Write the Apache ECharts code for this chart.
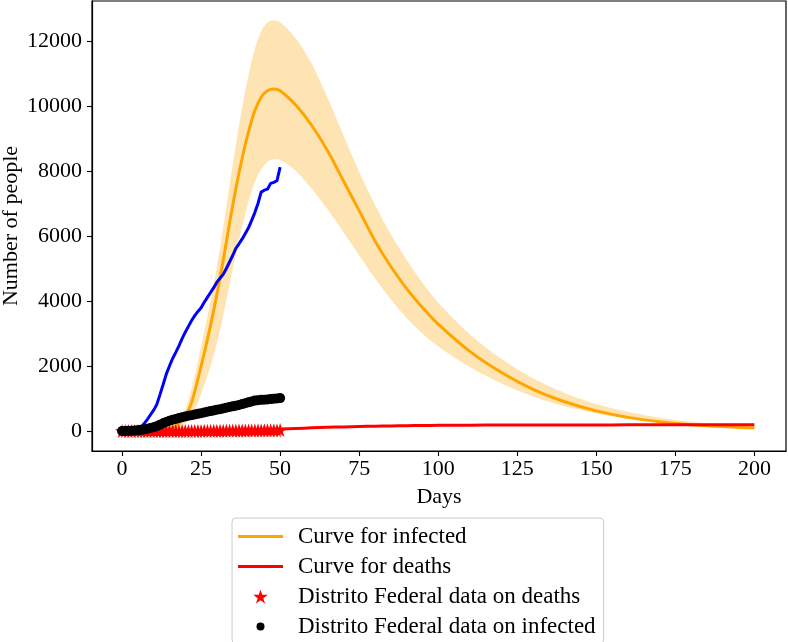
<!DOCTYPE html>
<html><head><meta charset="utf-8">
<script src="https://cdn.jsdelivr.net/npm/echarts@6/dist/echarts.min.js"></script>
<style>html,body{margin:0;padding:0;background:#fff}#c{width:788px;height:642px}</style>
</head><body><div id="c"></div>
<script>
// ---- model curves (days) ----
const modelDays = [0,4,8,12,14,16,18,20,22,24,26,28,30,32,34,36,38,40,42,44,46,48,50,55,60,65,70,75,80,85,90,95,100,110,120,130,140,150,160,170,180,190,200];
const infectedCurve = [0,2,8,30,60,120,230,440,880,1600,2400,3250,4200,5250,6400,7450,8400,9200,9850,10270,10470,10520,10470,10020,9400,8620,7700,6780,5850,5060,4380,3800,3290,2450,1800,1280,900,620,420,285,195,135,95];
const infectedUpper = [0,3,12,45,90,180,350,680,1300,2150,3050,4000,5050,6250,7550,8800,9950,10950,11750,12300,12570,12640,12580,12080,11300,10250,9100,7980,6960,6050,5270,4560,3950,2980,2220,1620,1170,830,590,410,285,200,140];
const infectedLower = [0,1,5,18,35,65,120,230,470,880,1400,2000,2700,3550,4500,5450,6300,7050,7650,8050,8280,8360,8340,8000,7450,6820,6120,5400,4700,4050,3480,3000,2600,1970,1460,1060,760,540,380,265,185,125,85];
const deathsCurve = [0,0,1,1,2,2,3,4,5,7,9,11,14,17,21,25,30,35,40,46,52,58,64,80,97,113,127,140,150,158,165,170,174,179,183,185,187,188,189,189,190,190,190];

// ---- Distrito Federal data (days 0..50) ----
const dataDays = [0,1,2,3,4,5,6,7,8,9,10,11,12,13,14,15,16,17,18,19,20,21,22,23,24,25,26,27,28,29,30,31,32,33,34,35,36,37,38,39,40,41,42,43,44,45,46,47,48,49,50];
const dfDeaths = [0,0,0,0,0,0,0,0,0,0,0,0,0,0,0,0,0,1,1,1,2,2,3,3,3,4,5,5,6,7,8,9,10,11,12,13,14,15,16,17,18,19,20,21,22,23,24,25,26,27,28];
const dfInfected = [0,3,6,10,15,22,35,50,70,90,115,150,195,240,280,315,345,372,398,422,445,468,488,508,528,550,572,592,612,632,652,672,692,714,736,758,780,802,828,855,882,908,935,950,958,965,972,982,990,998,1012];
const blueCases = [0,8,15,25,40,65,120,230,360,500,640,820,1120,1430,1750,2000,2230,2420,2620,2840,3040,3220,3400,3550,3680,3790,3960,4110,4260,4410,4580,4700,4820,5000,5200,5400,5620,5760,5910,6080,6250,6480,6720,7000,7350,7410,7440,7620,7650,7700,8120];

// ---- ticks ----
const xTicks = [0,25,50,75,100,125,150,175,200];
const yTicks = [0,2000,4000,6000,8000,10000,12000];

const FONT = 'Liberation Serif';
const zip = (a, b) => a.map((v, i) => [v, b[i]]);
const STAR = 'path://M50,0L61.2,34.5L97.6,34.5L68.2,55.9L79.4,90.5L50,69.1L20.6,90.5L31.8,55.9L2.4,34.5L38.8,34.5Z';
const DOT_LEGEND = 'path://M0,0M14,14M3,7A4,4,0,1,1,11,7A4,4,0,1,1,3,7Z';
const LINE_LEGEND = 'path://M0,0L45,0L45,3L0,3Z';

const chart = echarts.init(document.getElementById('c'), null, {renderer: 'canvas'});
chart.setOption({
  animation: false,
  backgroundColor: '#fff',
  textStyle: {fontFamily: FONT},
  grid: {left: 92, right: 2, top: 1, bottom: 191, show: true, borderColor: '#000', borderWidth: 1.2,
         backgroundColor: 'transparent', containLabel: false, outerBoundsMode: 'none'},
  xAxis: {
    type: 'value', min: -9.5, max: 210,
    name: 'Days', nameLocation: 'middle', nameGap: 35, nameMoveOverlap: false,
    nameTextStyle: {fontFamily: FONT, fontSize: 22, color: '#000'},
    axisLine: {show: true, onZero: false, lineStyle: {color: '#000', width: 1.2}},
    axisTick: {show: true, inside: false, length: 5, lineStyle: {color: '#000', width: 1.1}, customValues: xTicks},
    axisLabel: {fontFamily: FONT, fontSize: 22, color: '#000', margin: 7, customValues: xTicks, formatter: v => String(v)},
    splitLine: {show: false}
  },
  yAxis: {
    type: 'value', min: -615, max: 13230,
    name: 'Number of people', nameLocation: 'middle', nameGap: 70, nameMoveOverlap: false,
    nameTextStyle: {fontFamily: FONT, fontSize: 22, color: '#000'},
    axisLine: {show: true, onZero: false, lineStyle: {color: '#000', width: 1.2}},
    axisTick: {show: true, inside: false, length: 5, lineStyle: {color: '#000', width: 1.1}, customValues: yTicks},
    axisLabel: {fontFamily: FONT, fontSize: 22, color: '#000', margin: 10, customValues: yTicks, formatter: v => String(v)},
    splitLine: {show: false}
  },
  legend: {
    orient: 'vertical', left: 232, top: 518, height: 300,
    padding: [7, 8, 6, 6], itemGap: 7, itemWidth: 45, itemHeight: 14,
    backgroundColor: 'rgba(255,255,255,0.8)', borderColor: '#cccccc', borderWidth: 1, borderRadius: 4,
    textStyle: {fontFamily: FONT, fontSize: 23, color: '#000', lineHeight: 22, padding: [0, 0, 0, 10]},
    data: [
      {name: 'Curve for infected', icon: LINE_LEGEND},
      {name: 'Curve for deaths', icon: LINE_LEGEND},
      {name: 'Distrito Federal data on deaths', icon: STAR},
      {name: 'Distrito Federal data on infected', icon: DOT_LEGEND}
    ]
  },
  series: [
    {name: 'band-upper', type: 'line', data: zip(modelDays, infectedUpper), smooth: 0.3, z: 1,
     symbol: 'none', lineStyle: {width: 0, opacity: 0}, areaStyle: {color: 'rgb(255,228,179)', opacity: 1, origin: 0}, silent: true},
    {name: 'band-lower', type: 'line', data: zip(modelDays, infectedLower), smooth: 0.3, z: 1,
     symbol: 'none', lineStyle: {width: 0, opacity: 0}, areaStyle: {color: '#ffffff', opacity: 1, origin: 0}, silent: true},
    {name: 'Curve for infected', type: 'line', data: zip(modelDays, infectedCurve), smooth: 0.3, z: 2,
     symbol: 'none', lineStyle: {color: '#FFA500', width: 3}, itemStyle: {color: '#FFA500'}},
    {name: 'Curve for deaths', type: 'line', data: zip(modelDays, deathsCurve), smooth: 0.3, z: 2,
     symbol: 'none', lineStyle: {color: '#FF0000', width: 3}, itemStyle: {color: '#FF0000'}},
    {name: 'Distrito Federal data on deaths', type: 'scatter', data: zip(dataDays, dfDeaths), z: 2,
     symbol: STAR, symbolSize: 14, itemStyle: {color: '#FF0000', opacity: 1}},
    {name: 'Distrito Federal data on infected', type: 'scatter', data: zip(dataDays, dfInfected), z: 2,
     symbol: 'circle', symbolSize: 10, itemStyle: {color: '#000000', opacity: 1}},
    {name: 'Distrito Federal cases', type: 'line', data: zip(dataDays, blueCases), z: 2,
     symbol: 'none', lineStyle: {color: '#0000FF', width: 3}, itemStyle: {color: '#0000FF'}}
  ]
});
</script>
</body></html>
